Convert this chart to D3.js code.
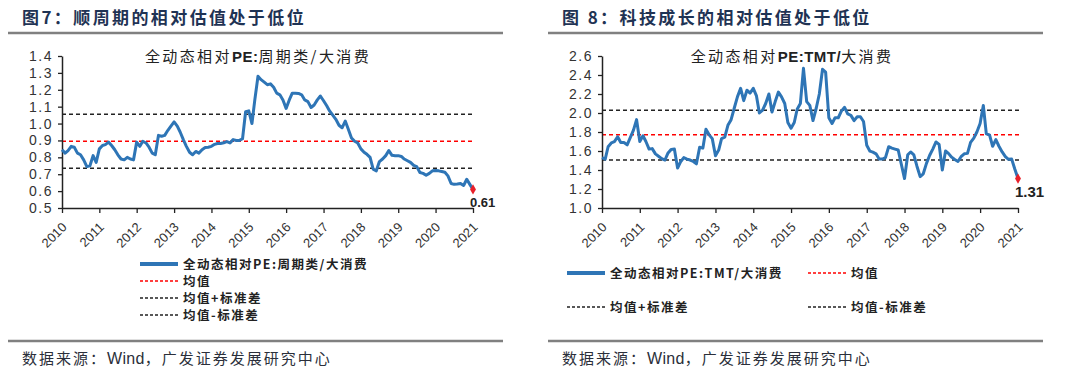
<!DOCTYPE html>
<html lang="zh">
<head>
<meta charset="UTF-8">
<title>相对估值</title>
<script src="https://d3js.org/d3.v7.min.js"></script>
<style>
  html, body { margin: 0; padding: 0; background: #fff; }
  svg { display: block; }
  .cjk { font-family: "Noto Sans CJK SC", "Liberation Sans", sans-serif; }
  .num { font-family: "Liberation Sans", Arial, sans-serif; }
</style>
</head>
<body>
<svg id="chart" width="1080" height="381"></svg>
<script>
// ---- données (mensuelles, jan 2010 -> jan 2021) ----
const months = d3.timeMonth.range(new Date(2010, 0, 1), new Date(2021, 1, 1));

const cyclicalValues = [
  0.845, 0.825, 0.84, 0.865, 0.86, 0.825, 0.815, 0.785, 0.745, 0.75, 0.81, 0.77,
  0.85, 0.87, 0.875, 0.89, 0.87, 0.845, 0.815, 0.79, 0.785, 0.80, 0.79, 0.785,
  0.89, 0.865, 0.895, 0.885, 0.86, 0.825, 0.815, 0.93, 0.925, 0.93, 0.96, 0.985,
  1.01, 0.985, 0.95, 0.905, 0.865, 0.83, 0.815, 0.835, 0.825, 0.845, 0.858, 0.86,
  0.865, 0.877, 0.882, 0.882, 0.886, 0.893, 0.885, 0.905, 0.9, 0.9, 0.91, 1.07,
  1.075, 1.00, 1.14, 1.28, 1.26, 1.245, 1.23, 1.235, 1.215, 1.18, 1.17, 1.14,
  1.09, 1.14, 1.18, 1.18, 1.178, 1.17, 1.14, 1.13, 1.095, 1.11, 1.14, 1.163,
  1.135, 1.105, 1.075, 1.05, 1.025, 0.99, 0.975, 1.015, 0.965, 0.915, 0.895, 0.885,
  0.85, 0.83, 0.818, 0.8, 0.73, 0.72, 0.775, 0.79, 0.81, 0.84, 0.812, 0.81,
  0.81, 0.805, 0.79, 0.78, 0.77, 0.752, 0.745, 0.71, 0.705, 0.694, 0.705, 0.72,
  0.722, 0.72, 0.716, 0.712, 0.69, 0.645, 0.64, 0.642, 0.645, 0.633, 0.67, 0.64,
  0.61
];

const tmtValues = [
  1.53, 1.515, 1.645, 1.685, 1.698, 1.75, 1.69, 1.69, 1.665, 1.74, 1.82, 1.93,
  1.70, 1.76, 1.70, 1.62, 1.625, 1.57, 1.545, 1.52, 1.505, 1.58, 1.617, 1.62,
  1.42, 1.49, 1.53, 1.515, 1.505, 1.49, 1.465, 1.64, 1.63, 1.83, 1.77, 1.73,
  1.55, 1.61, 1.73, 1.745, 1.87, 1.93, 2.05, 2.17, 2.26, 2.13, 2.24, 2.21,
  2.26, 2.18, 2.0, 2.03, 2.1, 2.2, 2.01, 2.12, 2.22, 2.17, 2.1, 1.9,
  1.84, 1.9, 2.04, 2.1, 2.47, 2.12, 2.08, 1.92, 2.05, 2.2, 2.46, 2.43,
  1.95, 1.89, 1.95, 1.95, 2.02, 2.06, 1.99, 1.975, 1.92, 1.96, 1.96, 1.91,
  1.66, 1.598, 1.588, 1.57, 1.515, 1.515, 1.53, 1.645, 1.63, 1.62, 1.61, 1.46,
  1.31, 1.56, 1.59, 1.56, 1.44, 1.33, 1.36, 1.47, 1.555, 1.62, 1.695, 1.67,
  1.40, 1.6, 1.575, 1.535, 1.51, 1.49, 1.54, 1.57, 1.575, 1.69, 1.735, 1.8,
  1.89, 2.08, 1.78, 1.77, 1.65, 1.72, 1.65, 1.59, 1.54, 1.512, 1.515, 1.41,
  1.31
];

// [均值, 均值+标准差, 均值-标准差]
const cyclicalRefs = [0.895, 1.055, 0.735];
const tmtRefs = [1.77, 2.03, 1.505];

const yearTicks = ["2010","2011","2012","2013","2014","2015","2016","2017","2018","2019","2020","2021"];
const cyclicalYTicks = [0.5, 0.6, 0.7, 0.8, 0.9, 1.0, 1.1, 1.2, 1.3, 1.4];
const tmtYTicks = [1.0, 1.2, 1.4, 1.6, 1.8, 2.0, 2.2, 2.4, 2.6];

const refLabels = ["均值", "均值+标准差", "均值-标准差"];
const sourceParts = ["数据来源：", "Wind", "，广发证券发展研究中心"];

const blue = "#2e75b6";
const svg = d3.select("#chart");

function drawPanel(o) {
  const g = svg.append("g");

  // en-tête
  g.append("text").attr("class", "cjk")
    .attr("x", o.left + 14).attr("y", 24)
    .attr("font-size", 17).attr("font-weight", "bold")
    .attr("letter-spacing", 2.4)
    .attr("fill", "#1f3354")
    .text(o.header);
  g.append("line")
    .attr("x1", o.left).attr("x2", o.left + 495)
    .attr("y1", 33).attr("y2", 33)
    .attr("stroke", "#808080").attr("stroke-width", 2.5);

  // pied
  g.append("line")
    .attr("x1", o.left).attr("x2", o.left + 495)
    .attr("y1", 341).attr("y2", 341)
    .attr("stroke", "#808080").attr("stroke-width", 2.5);
  const src = g.append("text").attr("class", "cjk")
    .attr("x", o.left + 14).attr("y", 364)
    .attr("font-size", 15).attr("fill", "#2b2f3a");
  sourceParts.forEach((s, i) => {
    src.append("tspan")
      .attr("letter-spacing", i === 1 ? 0.3 : 2)
      .attr("font-family", i === 1 ? "Liberation Sans, Arial, sans-serif" : null)
      .attr("font-size", i === 1 ? 16 : null)
      .text(s);
  });

  const x = d3.scaleTime()
    .domain([new Date(2010, 0, 1), new Date(2021, 0, 1)])
    .range([o.x0, o.x1]);
  const y = d3.scaleLinear().domain(o.yDomain).range([208, 56]);

  // lignes de référence
  const refColors = ["#ff0000", "#222", "#222"];
  o.refs.forEach((v, i) => {
    g.append("line")
      .attr("x1", o.x0).attr("x2", o.x1 + 2)
      .attr("y1", y(v)).attr("y2", y(v))
      .attr("stroke", refColors[i])
      .attr("stroke-width", 1.5)
      .attr("stroke-dasharray", "4,3");
  });

  // axes
  const yAxis = d3.axisLeft(y)
    .tickValues(o.yTicks)
    .tickFormat(d3.format(".1f"))
    .tickSize(4).tickSizeOuter(0).tickPadding(5);
  const yg = g.append("g").attr("transform", `translate(${o.x0},0)`).call(yAxis);
  yg.selectAll("text").attr("class", "num")
    .attr("font-size", 14).attr("fill", "#333").attr("letter-spacing", 1.5);

  const xAxis = d3.axisBottom(x)
    .tickValues(yearTicks.map(t => new Date(+t, 0, 1)))
    .tickFormat(d3.timeFormat("%Y"))
    .tickSize(5).tickSizeOuter(0);
  const xg = g.append("g").attr("transform", "translate(0,208)").call(xAxis);
  xg.selectAll("text").attr("class", "num")
    .attr("font-size", 13).attr("fill", "#333")
    .attr("text-anchor", "end")
    .attr("dy", null).attr("y", null)
    .attr("transform", "translate(5,20) rotate(-45)");

  [yg, xg].forEach(a => {
    a.select(".domain").attr("stroke", "#222").attr("stroke-width", 1.5);
    a.selectAll(".tick line").attr("stroke", "#222").attr("stroke-width", 1.3);
  });

  // série
  const data = months.map((d, i) => ({ date: d, value: o.values[i] }));
  const line = d3.line().x(d => x(d.date)).y(d => y(d.value));
  g.append("path").datum(data)
    .attr("fill", "none").attr("stroke", blue)
    .attr("stroke-width", 3).attr("stroke-linejoin", "round")
    .attr("d", line);

  const last = data[data.length - 1];
  g.append("path")
    .attr("d", d3.symbol(d3.symbolDiamond, 30)())
    .attr("transform", `translate(${x(last.date)},${y(last.value)})`)
    .attr("fill", "#e8202a");
  g.append("text").attr("class", "num")
    .attr("x", x(last.date) - 3).attr("y", y(last.value) + o.lastDy)
    .attr("font-size", o.lastSize).attr("font-weight", "bold").attr("fill", "#222")
    .text(d3.format(".2f")(last.value));

  // titre dans le graphique
  const t = g.append("text").attr("class", "cjk")
    .attr("x", o.titleX).attr("y", 62)
    .attr("text-anchor", "middle")
    .attr("font-size", 15).attr("letter-spacing", 2.4).attr("fill", "#222");
  o.titleParts.forEach(p => {
    t.append("tspan")
      .attr("font-weight", p.bold ? "bold" : null)
      .attr("font-family", p.bold ? "Liberation Sans, Arial, sans-serif" : null)
      .attr("letter-spacing", p.bold ? 0.5 : null)
      .text(p.text);
  });

  // légende
  const items = [
    { label: o.seriesLabel, color: blue, width: 4, dash: null },
    { label: refLabels[0], color: "#ff0000", width: 1.3, dash: "3,2" },
    { label: refLabels[1], color: "#222", width: 1.3, dash: "3,2" },
    { label: refLabels[2], color: "#222", width: 1.3, dash: "3,2" }
  ];
  items.forEach((it, i) => {
    const p = o.legendPos[i];
    g.append("line")
      .attr("x1", p[0]).attr("x2", p[0] + 38)
      .attr("y1", p[1]).attr("y2", p[1])
      .attr("stroke", it.color).attr("stroke-width", it.width)
      .attr("stroke-dasharray", it.dash);
    g.append("text").attr("class", "cjk")
      .attr("x", p[0] + 43).attr("y", p[1] + 4.5)
      .attr("font-size", 12.5).attr("font-weight", "bold")
      .attr("letter-spacing", 1.5).attr("fill", "#222")
      .text(it.label);
  });
}

drawPanel({
  left: 8,
  header: "图7：顺周期的相对估值处于低位",
  x0: 62, x1: 473,
  yDomain: [0.5, 1.4],
  yTicks: cyclicalYTicks,
  values: cyclicalValues,
  refs: cyclicalRefs,
  titleX: 258,
  titleParts: [{ text: "全动态相对" }, { text: "PE:", bold: true }, { text: "周期类/大消费" }],
  seriesLabel: "全动态相对PE:周期类/大消费",
  legendPos: [[140, 264], [140, 281], [140, 298], [140, 315]],
  lastDy: 18, lastSize: 13
});

drawPanel({
  left: 548,
  header: "图 8：科技成长的相对估值处于低位",
  x0: 602, x1: 1018,
  yDomain: [1.0, 2.6],
  yTicks: tmtYTicks,
  values: tmtValues,
  refs: tmtRefs,
  titleX: 792,
  titleParts: [{ text: "全动态相对" }, { text: "PE:TMT/", bold: true }, { text: "大消费" }],
  seriesLabel: "全动态相对PE:TMT/大消费",
  legendPos: [[567, 273], [808, 273], [567, 307], [808, 307]],
  lastDy: 18, lastSize: 15
});
</script>
</body>
</html>
